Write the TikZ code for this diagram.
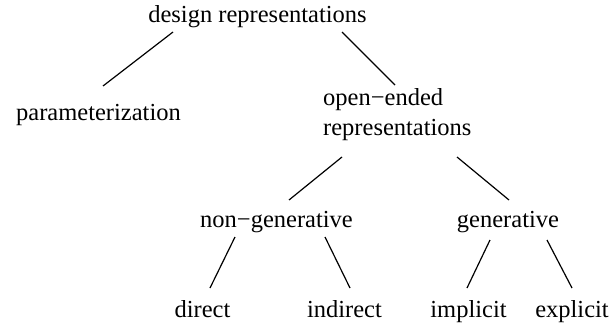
\documentclass[tikz,border=0pt]{standalone}
\usepackage{fontspec}
\setmainfont{Liberation Serif}
\begin{document}
\begin{tikzpicture}[x=1pt,y=-1pt,
    lbl/.style = {anchor=base, inner sep=0pt, font=\fontsize{24.5}{30}\selectfont},
    edge/.style = {line width=1.2pt}]
    \useasboundingbox (0,0) rectangle (614,324);
    \node[lbl] (root) at (257.5,23) {design representations};
    \node[lbl] (param) at (98.5,120) {parameterization};
    \node[lbl, anchor=base west, align=left] (open) at (323,135) {open−ended\\representations};
    \node[lbl] (nongen) at (276.5,227) {non−generative};
    \node[lbl] (gen) at (508,227) {generative};
    \node[lbl] (direct) at (202.5,317) {direct};
    \node[lbl] (indirect) at (344.5,317) {indirect};
    \node[lbl] (implicit) at (468.5,317) {implicit};
    \node[lbl] (explicit) at (572,317) {explicit};

    \draw[edge] ([shift={(-84.5,9)}]root.base) -- ([shift={(4.5,-34)}]param.base);
    \draw[edge] ([shift={(84.5,9)}]root.base) -- ([shift={(72,-50)}]open.base west);
    \draw[edge] ([shift={(19,22)}]open.base west) -- ([shift={(12.5,-27)}]nongen.base);
    \draw[edge] ([shift={(134,22)}]open.base west) -- ([shift={(1,-27)}]gen.base);
    \draw[edge] ([shift={(-41.5,10)}]nongen.base) -- ([shift={(7.5,-29)}]direct.base);
    \draw[edge] ([shift={(48.5,10)}]nongen.base) -- ([shift={(5.5,-29)}]indirect.base);
    \draw[edge] ([shift={(-18,13)}]gen.base) -- ([shift={(-1.5,-29)}]implicit.base);
    \draw[edge] ([shift={(39,13)}]gen.base) -- ([shift={(0,-29)}]explicit.base);
\end{tikzpicture}
\end{document}
